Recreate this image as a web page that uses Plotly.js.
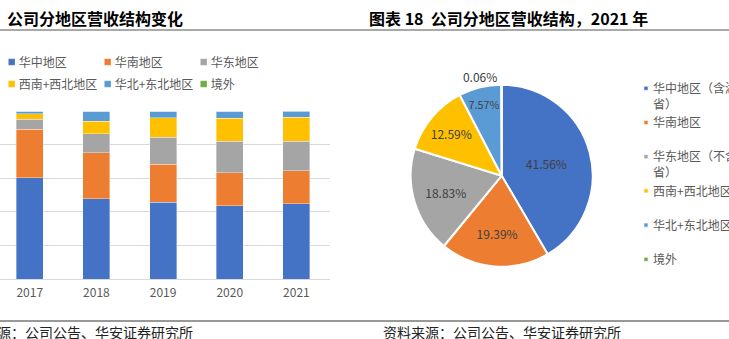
<!DOCTYPE html>
<html><head><meta charset="utf-8">
<script src="https://cdn.plot.ly/plotly-3.0.1.min.js"></script>
<style>
html,body{margin:0;padding:0;width:729px;height:339px;overflow:hidden;background:#fff;}
#chart{position:absolute;left:-60px;top:0;width:909px;height:339px;}
</style></head><body><div id="chart"></div>
<script>
const years = ['2017','2018','2019','2020','2021'];
const regions = ['华中地区','华南地区','华东地区','西南+西北地区','华北+东北地区','境外'];
const central = [60.3, 47.8, 45.8, 43.6, 44.8];
const south = [28.8, 27.4, 22.4, 19.6, 19.6];
const east = [6.0, 11.3, 16.1, 18.7, 17.7];
const west = [3.3, 7.5, 11.7, 13.9, 14.3];
const north = [1.6, 6.0, 4.0, 4.2, 3.6];
const overseas = [0, 0, 0, 0, 0.1];
const pieLabels = ['华中地区（含湖北<br>省）', '华南地区<br> ', '华东地区（不含上海<br>省）', '西南+西北地区<br> ', '华北+东北地区<br> ', '境外<br> '];
const pieValues = [41.56, 19.39, 18.83, 12.59, 7.57, 0.06];
const colors = ['#4472C4', '#ED7D31', '#A5A5A5', '#FFC000', '#5B9BD5', '#70AD47'];
const leftTitle = '公司分地区营收结构变化';
const rightTitle = '图表 18  公司分地区营收结构，2021 年';
const sourceText = '资料来源：公司公告、华安证券研究所';

const FONT = '"Noto Sans CJK SC", "Noto Sans", sans-serif';
const series = [central, south, east, west, north, overseas];
const traces = series.map((vals, i) => ({
  type: 'bar', x: years, y: vals, name: regions[i],
  marker: {color: colors[i], line: {color: 'rgba(255,255,255,0.45)', width: 0.8}},
  legend: i < 3 ? 'legend' : 'legend3',
  hoverinfo: 'skip'
}));
traces.push({
  type: 'pie', labels: pieLabels, values: pieValues, sort: false,
  direction: 'clockwise', rotation: 0,
  marker: {colors: colors, line: {color: '#fff', width: 2}},
  texttemplate: '%{value:.2f}%',
  textposition: ['inside','inside','inside','inside','inside','outside'],
  insidetextorientation: 'horizontal',
  textfont: {size: 12, color: '#404040', family: FONT},
  domain: {x: [0.51782, 0.71804], y: [0.21327, 0.75015]},
  legend: 'legend2', hoverinfo: 'skip'
});

const W = 909, H = 339, L = -60;
const px = v => (v - L) / W;
const py = v => 1 - v / H;

const layout = {
  width: W, height: H, margin: {l: 0, r: 0, t: 0, b: 0, pad: 0},
  paper_bgcolor: '#fff', plot_bgcolor: '#fff',
  font: {family: FONT, color: '#595959', size: 12},
  barmode: 'stack', bargap: 0.595, hovermode: false,
  xaxis: {domain: [px(-3.6), px(329.7)], type: 'category', showline: true, linecolor: '#D9D9D9',
    linewidth: 1, ticks: '', showgrid: false, ticklabelstandoff: 3, tickfont: {size: 12, color: '#595959'}},
  yaxis: {domain: [py(279), py(111)], range: [0, 100], dtick: 20, ticksuffix: '%', showgrid: true,
    gridcolor: '#D9D9D9', gridwidth: 1, zeroline: false, showline: false, showticklabels: false},
  legend: {orientation: 'h', x: px(-21.3), xanchor: 'left', y: py(62), yanchor: 'middle',
    entrywidth: 51, font: {size: 12, color: '#595959'}, bgcolor: 'rgba(0,0,0,0)', traceorder: 'normal'},
  legend3: {orientation: 'h', x: px(-21.3), xanchor: 'left', y: py(84), yanchor: 'middle',
    entrywidth: 51, font: {size: 12, color: '#595959'}, bgcolor: 'rgba(0,0,0,0)', traceorder: 'normal'},
  legend2: {orientation: 'v', x: px(613), xanchor: 'left', y: py(74), yanchor: 'top', valign: 'top',
    font: {size: 12, color: '#595959'}, bgcolor: 'rgba(0,0,0,0)', traceorder: 'normal'},
  annotations: [
    {text: leftTitle, xref: 'paper', yref: 'paper', x: px(5), y: py(18), xanchor: 'left', yanchor: 'middle',
      showarrow: false, font: {size: 16, color: '#000', weight: 'bold', family: FONT}},
    {text: rightTitle, xref: 'paper', yref: 'paper', x: px(367), y: py(18), xanchor: 'left', yanchor: 'middle',
      showarrow: false, font: {size: 16, color: '#000', weight: 'bold', family: FONT}},
    {text: sourceText, xref: 'paper', yref: 'paper', x: px(195), y: py(332), xanchor: 'right', yanchor: 'middle',
      showarrow: false, font: {size: 14, color: '#222', family: FONT}},
    {text: sourceText, xref: 'paper', yref: 'paper', x: px(381), y: py(332), xanchor: 'left', yanchor: 'middle',
      showarrow: false, font: {size: 14, color: '#222', family: FONT}}
  ],
  shapes: [
    {type: 'line', xref: 'paper', yref: 'paper', x0: 0, x1: 1, y0: py(30), y1: py(30), line: {color: '#8C8C8C', width: 1.5}},
    {type: 'line', xref: 'paper', yref: 'paper', x0: 0, x1: 1, y0: py(321), y1: py(321), line: {color: '#333', width: 1}}
  ]
};

Plotly.newPlot('chart', traces, layout, {staticPlot: true, displayModeBar: false}).then(gd => {
  const tweak = (sel, dx, s) => document.querySelectorAll(sel).forEach(p => {
    const t = p.getAttribute('transform') || '';
    p.setAttribute('transform', t + ' translate(' + dx + ',0) scale(' + s + ')');
  });
  tweak('g.legend .legendpoints path', 13, 0.55);
  tweak('g.legend3 .legendpoints path', 13, 0.55);
  tweak('g.legend2 .legendpoints path', 13, 0.35);
});
</script></body></html>
